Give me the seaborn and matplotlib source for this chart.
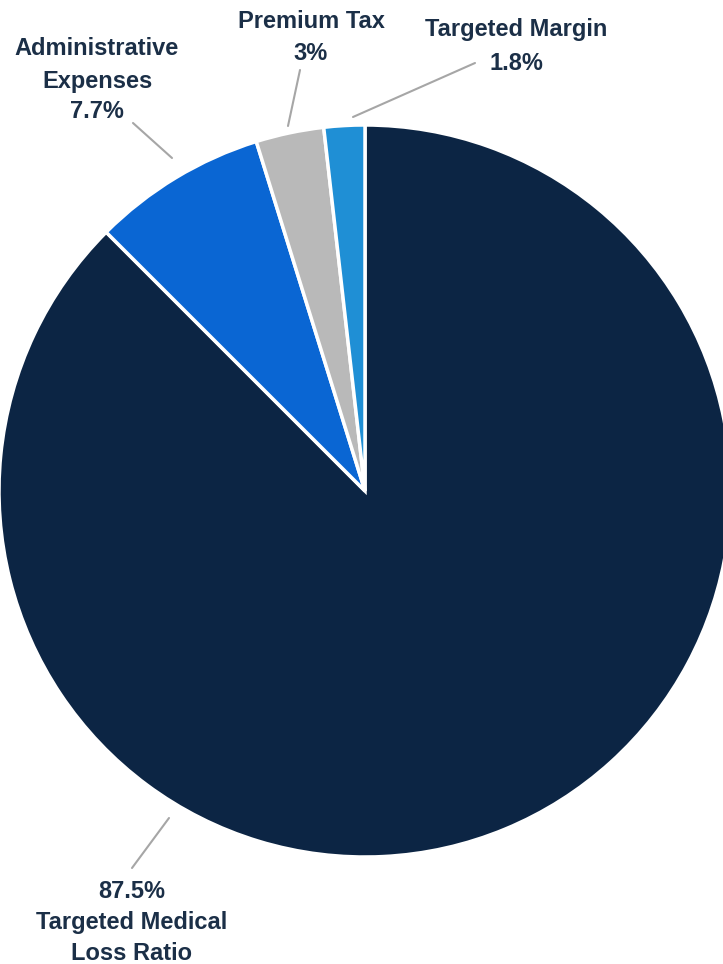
import matplotlib
matplotlib.use("Agg")
import matplotlib.pyplot as plt
import seaborn as sns

# --- data ---
categories = ["Targeted Medical Loss Ratio", "Administrative Expenses", "Premium Tax", "Targeted Margin"]
shares = [87.5, 7.7, 3.0, 1.8]
pct_labels = ["87.5%", "7.7%", "3%", "1.8%"]

colors = ["#0c2544", "#0a66d3", "#b9b9b9", "#1f8fd5"]
text_color = "#1b2f47"
line_color = "#a6a6a6"

sns.set_theme(style="white")
plt.rcParams["font.family"] = ["Liberation Sans Narrow", "Liberation Sans", "DejaVu Sans"]

W, H = 723, 964
fig = plt.figure(figsize=(W / 100, H / 100), dpi=100)

# pie centre / radius in pixels
cx, cy, r = 365, 491, 366
ax = fig.add_axes([(cx - r) / W, (H - cy - r) / H, 2 * r / W, 2 * r / H])
ax.pie(shares, colors=colors, startangle=90, counterclock=False, radius=1,
       wedgeprops=dict(edgecolor="white", linewidth=2.5))
ax.set_xlim(-1, 1)
ax.set_ylim(-1, 1)
ax.set_aspect("equal")
ax.axis("off")


def px(x, y):
    return (x - cx) / r, (cy - y) / r


# label lines: (x centre, [(text, baseline y), ...]) in pixels
label_layout = {
    "Administrative Expenses": (97, [("Administrative", 55), ("Expenses", 88), (pct_labels[1], 118)]),
    "Premium Tax": (311, [("Premium Tax", 28), (pct_labels[2], 60)]),
    "Targeted Margin": (516, [("Targeted Margin", 36), (pct_labels[3], 70)]),
    "Targeted Medical Loss Ratio": (132, [(pct_labels[0], 898), ("Targeted Medical", 929), ("Loss Ratio", 960)]),
}
leaders = {
    "Administrative Expenses": ((133, 123), (172, 158)),
    "Premium Tax": ((300, 70), (288, 126)),
    "Targeted Margin": ((475, 63), (353, 117)),
    "Targeted Medical Loss Ratio": ((132, 868), (169, 818)),
}

for cat in categories:
    x0, lines = label_layout[cat]
    for txt, yb in lines:
        tx, ty = px(x0, yb)
        ax.text(tx, ty, txt, ha="center", va="baseline", fontsize=17,
                fontweight="bold", color=text_color, clip_on=False)
    (x1, y1), (x2, y2) = leaders[cat]
    a, b = px(x1, y1)
    c, d = px(x2, y2)
    ax.plot([a, c], [b, d], color=line_color, lw=1.5, clip_on=False)

fig.savefig("out.png", dpi=100)
